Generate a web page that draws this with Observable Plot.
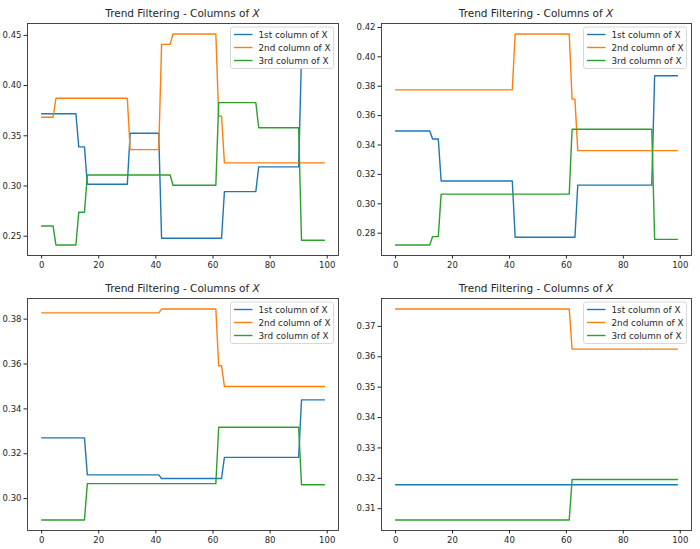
<!DOCTYPE html>
<html>
<head>
<meta charset="utf-8">
<script src="https://cdn.jsdelivr.net/npm/d3@7"></script>
<script src="https://cdn.jsdelivr.net/npm/@observablehq/plot@0.6"></script>
<style>
  html, body { margin: 0; padding: 0; background: #fff; }
  #root { position: relative; width: 700px; height: 549px; background: #fff; overflow: hidden; }
  #root svg { position: absolute; }
</style>
</head>
<body>
<div id="root"></div>
<script>
// ---------- data (step segments: [xStart, xEnd, value]) ----------
const seriesNames = ["1st column of X", "2nd column of X", "3rd column of X"];
const seriesColors = ["#1f77b4", "#ff7f0e", "#2ca02c"];
const titleText = "Trend Filtering - Columns of ";
const titleVar = "X";
const xTicks = [0, 20, 40, 60, 80, 100];
const xRange = [0, 99];

// panel 1 (top-left)
const p1Col1 = [[0,12,0.372],[13,15,0.339],[16,30,0.3017],[31,41,0.3525],[42,63,0.248],[64,75,0.2944],[76,90,0.319],[91,99,0.43]];
const p1Col2 = [[0,4,0.3684],[5,30,0.3873],[31,41,0.3362],[42,45,0.441],[46,61,0.4513],[62,63,0.3694],[64,99,0.323]];
const p1Col3 = [[0,4,0.2602],[5,12,0.2413],[13,15,0.2739],[16,45,0.311],[46,61,0.3007],[62,75,0.383],[76,90,0.358],[91,99,0.246]];
const p1YTicks = [0.25, 0.30, 0.35, 0.40, 0.45];

// panel 2 (top-right)
const p2Col1 = [[0,12,0.3495],[13,15,0.3441],[16,41,0.3155],[42,63,0.2772],[64,90,0.3127],[91,99,0.3871]];
const p2Col2 = [[0,41,0.3775],[42,61,0.4155],[62,63,0.3712],[64,99,0.3362]];
const p2Col3 = [[0,12,0.272],[13,15,0.2777],[16,61,0.3066],[62,90,0.3507],[91,99,0.2758]];
const p2YTicks = [0.28, 0.30, 0.32, 0.34, 0.36, 0.38, 0.40, 0.42];

// panel 3 (bottom-left)
const p3Col1 = [[0,15,0.3271],[16,41,0.3106],[42,63,0.309],[64,90,0.3184],[91,99,0.344]];
const p3Col2 = [[0,41,0.3828],[42,61,0.3845],[62,63,0.3592],[64,99,0.35]];
const p3Col3 = [[0,15,0.2905],[16,61,0.3067],[62,90,0.3318],[91,99,0.3062]];
const p3YTicks = [0.30, 0.32, 0.34, 0.36, 0.38];

// panel 4 (bottom-right)
const p4Col1 = [[0,99,0.3179]];
const p4Col2 = [[0,61,0.3757],[62,99,0.3625]];
const p4Col3 = [[0,61,0.3063],[62,99,0.3196]];
const p4YTicks = [0.31, 0.32, 0.33, 0.34, 0.35, 0.36, 0.37];

// ---------- layout ----------
const panels = [
  {cols: [p1Col1, p1Col2, p1Col3], yTicks: p1YTicks, left: 0,   top: 0,   w: 350, h: 275, ml: 27, mr: 12, mt: 23, mb: 20},
  {cols: [p2Col1, p2Col2, p2Col3], yTicks: p2YTicks, left: 350, top: 0,   w: 350, h: 275, ml: 31, mr: 9,  mt: 23, mb: 20},
  {cols: [p3Col1, p3Col2, p3Col3], yTicks: p3YTicks, left: 0,   top: 275, w: 350, h: 274, ml: 27, mr: 12, mt: 23, mb: 19},
  {cols: [p4Col1, p4Col2, p4Col3], yTicks: p4YTicks, left: 350, top: 275, w: 350, h: 274, ml: 31, mr: 9,  mt: 23, mb: 19}
];

function toPoints(cols) {
  const pts = [];
  cols.forEach((segs, i) => {
    segs.forEach(([x0, x1, v]) => {
      pts.push({s: seriesNames[i], x: x0, y: v});
      if (x1 !== x0) pts.push({s: seriesNames[i], x: x1, y: v});
    });
  });
  return pts;
}
function pad(ext) { const d = (ext[1] - ext[0]) * 0.05; return [ext[0] - d, ext[1] + d]; }

const root = document.getElementById("root");
const fontFamily = "'DejaVu Sans', sans-serif";

panels.forEach(p => {
  const data = toPoints(p.cols);
  const yDomain = pad(d3.extent(data, d => d.y));
  const xDomain = pad(xRange);
  const svgEl = Plot.plot({
    width: p.w, height: p.h,
    marginLeft: p.ml, marginRight: p.mr, marginTop: p.mt, marginBottom: p.mb,
    style: {fontFamily, fontSize: "8.5px", color: "#262626", background: "transparent"},
    x: {domain: xDomain},
    y: {domain: yDomain},
    color: {domain: seriesNames, range: seriesColors},
    marks: [
      Plot.line(data, {x: "x", y: "y", z: "s", stroke: "s", strokeWidth: 1.4}),
      Plot.frame({stroke: "#333", strokeWidth: 0.9}),
      Plot.axisX({ticks: xTicks, tickSize: 3.5, tickPadding: 2.5, label: null, tickFormat: d3.format("d")}),
      Plot.axisY({ticks: p.yTicks, tickSize: 3.5, tickPadding: 2.5, label: null, tickFormat: d3.format(".2f")})
    ]
  });
  svgEl.style.left = p.left + "px";
  svgEl.style.top = p.top + "px";
  root.appendChild(svgEl);

  const svg = d3.select(svgEl);
  const fx0 = p.ml, fx1 = p.w - p.mr, fy0 = p.mt;

  // title
  const t = svg.append("text")
    .attr("x", (fx0 + fx1) / 2).attr("y", fy0 - 6)
    .attr("text-anchor", "middle")
    .attr("font-family", fontFamily).attr("font-size", "10.5px").attr("fill", "#262626");
  t.append("tspan").text(titleText);
  t.append("tspan").attr("font-style", "italic").text(titleVar);

  // legend
  const lw = 103, lh = 41.5;
  const lx = fx1 - 4.5 - lw, ly = fy0 + 4;
  const g = svg.append("g").attr("text-anchor", "start");
  g.append("rect").attr("x", lx).attr("y", ly).attr("width", lw).attr("height", lh)
    .attr("rx", 2.5).attr("fill", "#fff").attr("fill-opacity", 0.97)
    .attr("stroke", "#d4d4d4").attr("stroke-width", 0.9);
  seriesNames.forEach((name, i) => {
    const yy = ly + 7.5 + i * 13;
    g.append("line").attr("x1", lx + 3.5).attr("x2", lx + 22).attr("y1", yy).attr("y2", yy)
      .attr("stroke", seriesColors[i]).attr("stroke-width", 1.4);
    g.append("text").attr("x", lx + 28).attr("y", yy + 3)
      .attr("text-anchor", "start")
      .attr("font-family", fontFamily).attr("font-size", "8.8px").attr("fill", "#262626")
      .text(name);
  });
});
</script>
</body>
</html>
